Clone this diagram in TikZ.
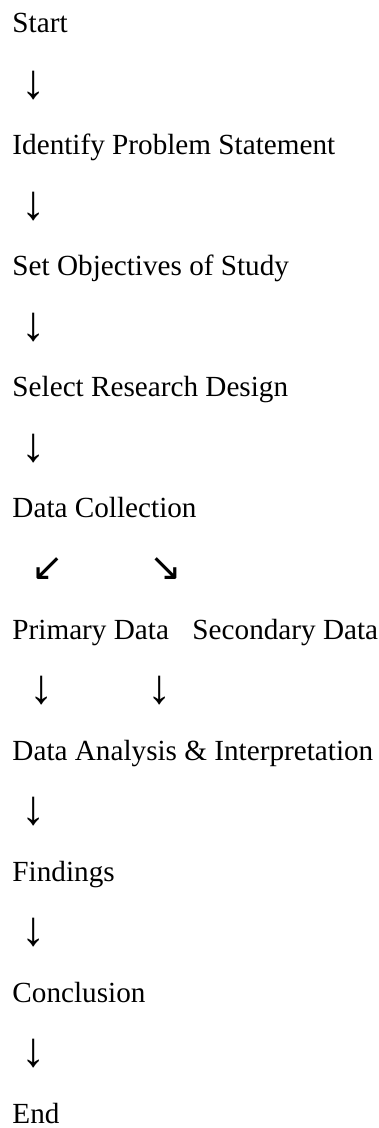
\documentclass[tikz,border=0pt]{standalone}
\usepackage{fontspec}
\setmainfont{Liberation Serif}
\newfontfamily\symfont{DejaVu Sans}
\begin{document}
\begin{tikzpicture}[
  x=0.411pt, y=-0.411pt,
  stepbox/.style={anchor=base west, inner sep=0pt, font=\fontsize{12}{14}\selectfont},
  arr/.style={anchor=center, inner sep=0pt, font=\fontsize{20}{24}\selectfont},
  diag/.style={anchor=center, inner sep=0pt, font=\symfont\fontsize{16}{18}\selectfont}
]
  \useasboundingbox (0,0) rectangle (378,1128);
  \node[stepbox] (start) at (12,33) {Start};
  \node[arr] (a1) at (34,86) {↓};
  \node[stepbox] (ident) at (12,154) {Identify Problem Statement};
  \node[arr] (a2) at (34,207) {↓};
  \node[stepbox] (objs) at (12,275) {Set Objectives of Study};
  \node[arr] (a3) at (34,328) {↓};
  \node[stepbox] (design) at (12,396) {Select Research Design};
  \node[arr] (a4) at (34,449) {↓};
  \node[stepbox] (collect) at (12,517) {Data Collection};
  \node[diag] (a5l) at (48,569) {↙};
  \node[diag] (a5r) at (166,569) {↘};
  \node[stepbox] (primary) at (12,639) {Primary Data};
  \node[stepbox] (secondary) at (192,639) {Secondary Data};
  \node[arr] (a6l) at (42,691) {↓};
  \node[arr] (a6r) at (160,691) {↓};
  \node[stepbox] (analysis) at (12,760) {Data Analysis \& Interpretation};
  \node[arr] (a7) at (34,812) {↓};
  \node[stepbox] (findings) at (12,881) {Findings};
  \node[arr] (a8) at (34,933) {↓};
  \node[stepbox] (concl) at (12,1002) {Conclusion};
  \node[arr] (a9) at (34,1054) {↓};
  \node[stepbox] (stop) at (12,1123) {End};
\end{tikzpicture}
\end{document}
